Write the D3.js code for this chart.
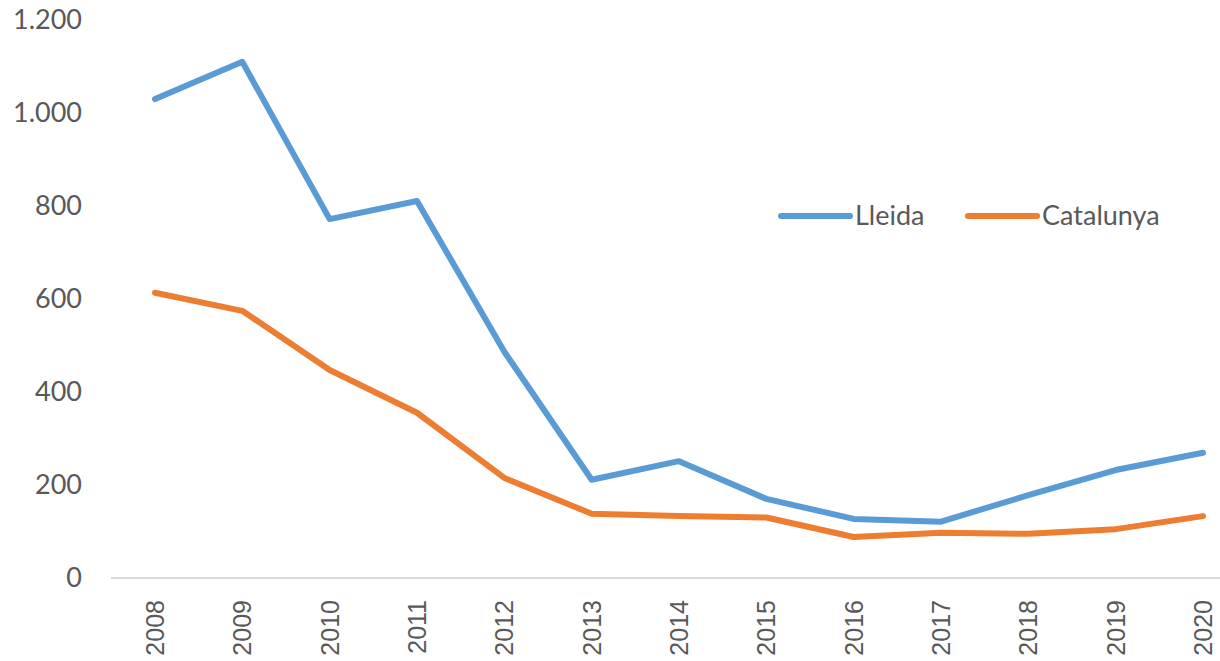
<!DOCTYPE html>
<html>
<head>
<meta charset="utf-8">
<script src="https://cdn.jsdelivr.net/npm/d3@7"></script>
<style>
  body { margin: 0; background: #fff; }
  svg text { fill: #595959; }
</style>
</head>
<body>
<svg width="1220" height="661"></svg>
<script>
// values
var years = ["2008", "2009", "2010", "2011", "2012", "2013", "2014", "2015", "2016", "2017", "2018", "2019", "2020"];
var lleida = [1029, 1109, 771, 810, 486, 211, 251, 170, 127, 121, 178, 232, 269];
var catalunya = [613, 574, 447, 355, 215, 138, 133, 130, 88, 97, 95, 105, 133];
var yTicks = [0, 200, 400, 600, 800, 1000, 1200];

var series = [
    { name: "Lleida", values: lleida, color: "#5B9BD5" },
    { name: "Catalunya", values: catalunya, color: "#ED7D31" }
];

var svg = d3.select("svg");

var x = d3.scalePoint()
    .domain(years)
    .range([155, 1203]);

var y = d3.scaleLinear()
    .domain([0, 1200])
    .range([578, 19.5]);

var fmt = d3.formatLocale({ decimal: ",", thousands: ".", grouping: [3], currency: ["", "€"] }).format(",d");

// y labels
var yAxis = svg.append("g")
    .attr("transform", "translate(82,0)")
    .call(d3.axisLeft(y).tickValues(yTicks).tickFormat(fmt).tickSize(0).tickPadding(0));
yAxis.select(".domain").remove();
yAxis.selectAll("text")
    .style("font-family", "Lato, 'Open Sans', sans-serif")
    .style("font-size", "27px")
    .attr("fill", "#595959");

// x axis line
svg.append("line")
    .attr("x1", 111).attr("x2", 1220)
    .attr("y1", y(0)).attr("y2", y(0))
    .attr("stroke", "#d9d9d9")
    .attr("stroke-width", 2);

// year labels, rotated
svg.append("g").selectAll("text")
    .data(years)
    .enter().append("text")
    .attr("transform", function (d) { return "translate(" + (x(d) + 9) + ",600) rotate(-90)"; })
    .attr("text-anchor", "end")
    .style("font-family", "'Liberation Sans', Arial, sans-serif")
    .style("font-size", "25px")
    .attr("fill", "#595959")
    .text(function (d) { return d; });

var line = d3.line()
    .x(function (d, i) { return x(years[i]); })
    .y(function (d) { return y(d); });

svg.append("g").selectAll("path")
    .data(series)
    .enter().append("path")
    .attr("d", function (d) { return line(d.values); })
    .attr("fill", "none")
    .attr("stroke", function (d) { return d.color; })
    .attr("stroke-width", 6)
    .attr("stroke-linejoin", "round")
    .attr("stroke-linecap", "round");

// legend
var legendX = [781, 968];
var legend = svg.append("g").selectAll("g")
    .data(series)
    .enter().append("g")
    .attr("transform", function (d, i) { return "translate(" + legendX[i] + ",216)"; });

legend.append("line")
    .attr("x1", 0).attr("x2", 69)
    .attr("stroke", function (d) { return d.color; })
    .attr("stroke-width", 6)
    .attr("stroke-linecap", "round");

legend.append("text")
    .attr("x", 74)
    .attr("dy", "0.35em")
    .style("font-family", "Lato, 'Open Sans', sans-serif")
    .style("font-size", "27px")
    .attr("fill", "#595959")
    .text(function (d) { return d.name; });
</script>
</body>
</html>
